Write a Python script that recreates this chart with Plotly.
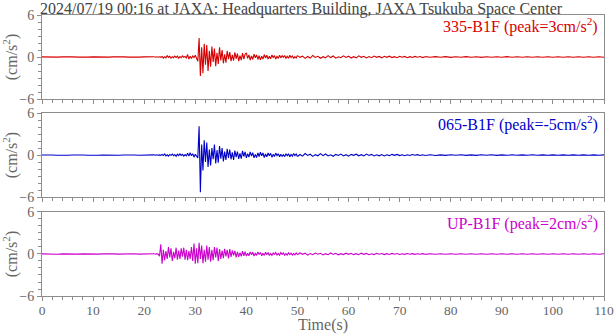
import plotly.graph_objects as go
from plotly.subplots import make_subplots

TITLE = "2024/07/19 00:16 at JAXA: Headquarters Building, JAXA Tsukuba Space Center"
CHANNELS = ["335-B1F", "065-B1F", "UP-B1F"]
PEAKS = [3, -5, 2]
COLORS = ["rgb(215,0,0)", "rgb(0,0,200)", "rgb(204,0,204)"]

# acceleration samples (cm/s^2), in four pieces per channel:
# quiet 0-22 s every 1 s, event 22-50 s every 0.25 s, coda 50-75 s every 0.5 s, tail 75-110 s every 1 s
PRE_335 = [0.02, -0.02, 0.03, -0.02, 0.02, -0.03, 0.02, -0.02, 0.03, -0.02, 0.02, -0.02,
           0.03, -0.02, 0.02, -0.03, 0.02, -0.02, 0.03, -0.02, 0.02, -0.02, 0.03]
EVENT_335 = [0.03, -0.03, 0.04, -0.03, 0.03, -0.04,
             0.08, -0.15, 0.05, -0.12, 0.18, -0.06, 0.1, -0.16, 0.04, -0.09,
             0.14, -0.05, 0.12, -0.18, 0.07, -0.1, 0.16, -0.04, 0.09, -0.13,
             0.35, -0.3, 0.1, -0.22, 0.15, -0.08, 0.25, -0.12,
             -0.6, 2.7, -2.7, 1.4, -2.3, 1.9,
             -1.1, 1.7, -2.0, 0.9,
             -1.4, 1.5, -0.7, 1.2, -1.3, 0.6, -1.0, 1.4,
             -0.5, 1.0, -0.9, 0.4, -0.8, 0.9, -0.3, 0.7,
             -0.6, 0.3, -0.5, 0.65, -0.25, 0.5, -0.6, 0.2, -0.45, 0.55, -0.3, 0.4,
             0.6, -0.2, 0.3, -0.45, 0.15, -0.35, 0.4, -0.1, 0.3, -0.35,
             0.2, -0.4, 0.1, -0.3, 0.35, -0.15, 0.25, -0.3, 0.1, -0.25,
             0.3, -0.1, 0.2, -0.28, 0.08, -0.2, 0.25, -0.12, 0.18, -0.05,
             0.22, -0.2, 0.1, -0.18, 0.25, -0.08, 0.15, -0.22, 0.06, -0.15, 0.2]
CODA_335 = [0.2, -0.05, 0.12, -0.2, 0.08, -0.15, 0.22, -0.06, 0.1, -0.18,
            0.05, -0.12, 0.2, -0.08, 0.14, -0.16, 0.04, -0.1, 0.17, -0.06,
            0.12, -0.15, 0.05, -0.12, 0.16, -0.04, 0.1, -0.13, 0.06, -0.1,
            0.14, -0.05, 0.08, -0.12, 0.1, -0.04, 0.12, -0.08, 0.05, -0.1,
            0.09, -0.04, 0.08, -0.1, 0.05, -0.07, 0.09, -0.03, 0.06, -0.08, 0.05]
TAIL_335 = [0.05, -0.04, 0.06, -0.03, 0.05, -0.05, 0.03, -0.04, 0.05, -0.03,
            0.04, -0.05, 0.03, -0.04, 0.04, -0.03, 0.05, -0.03, 0.03, -0.04,
            0.04, -0.03, 0.03, -0.04, 0.03, -0.03, 0.04, -0.03, 0.03, -0.03,
            0.04, -0.03, 0.03, -0.03, 0.03, -0.03]

PRE_065 = [0.02, -0.03, 0.02, -0.02, 0.03, -0.02, 0.02, -0.03, 0.02, -0.02, 0.03, -0.02,
           0.02, -0.02, 0.03, -0.02, 0.02, -0.03, 0.02, -0.02, 0.03, -0.02, 0.03]
EVENT_065 = [0.03, -0.03, 0.04, -0.03, 0.03, -0.04,
             0.1, -0.06, 0.16, -0.12, 0.05, -0.14, 0.09, -0.04, 0.15, -0.1,
             0.06, -0.17, 0.12, -0.08, 0.18, -0.05, 0.1, -0.14, 0.07, -0.12,
             0.25, -0.15, 0.35, -0.1, 0.2, -0.3, 0.12, -0.25,
             -0.4, 4.1, -5.3, 1.5, -2.2, 2.1,
             -1.0, 1.8, -1.7, 0.8,
             -1.5, 1.0, -0.6, 1.5, -1.2, 0.7, -1.1, 1.3,
             -0.5, 1.0, -0.9, 0.5, -0.7, 0.9, -0.4, 0.8,
             -0.6, 0.4, -0.7, 0.65, -0.3, 0.5, -0.55, 0.25, -0.5, 0.6, -0.2, 0.45,
             -0.4, 0.2, -0.3, 0.45, -0.15, 0.35, -0.4, 0.1, -0.35, 0.3,
             -0.2, 0.4, -0.1, 0.3, -0.35, 0.15, -0.25, 0.3, -0.1, 0.25,
             -0.3, 0.1, -0.2, 0.28, -0.08, 0.2, -0.25, 0.12, -0.18, 0.05,
             -0.22, 0.2, -0.1, 0.18, -0.25, 0.08, -0.15, 0.22, -0.06, 0.15, -0.2]
CODA_065 = [-0.2, 0.08, -0.15, 0.22, -0.05, 0.12, -0.18, 0.06, -0.1, 0.2,
            -0.08, 0.15, -0.12, 0.04, -0.17, 0.1, -0.06, 0.14, -0.12, 0.05,
            -0.15, 0.1, -0.04, 0.13, -0.1, 0.06, -0.12, 0.15, -0.05, 0.1,
            -0.12, 0.04, -0.1, 0.08, -0.13, 0.05, -0.08, 0.1, -0.04, 0.09,
            -0.07, 0.05, -0.09, 0.04, -0.06, 0.08, -0.03, 0.06, -0.05, 0.04, -0.05]
TAIL_065 = [-0.05, 0.04, -0.05, 0.03, -0.04, 0.05, -0.03, 0.04, -0.04, 0.03,
            -0.04, 0.04, -0.03, 0.04, -0.04, 0.03, -0.03, 0.04, -0.03, 0.03,
            -0.03, 0.04, -0.03, 0.03, -0.03, 0.03, -0.03, 0.03, -0.03, 0.03,
            -0.03, 0.03, -0.03, 0.03, -0.03, 0.03]

PRE_UP = [0.02, -0.02, 0.02, -0.03, 0.02, -0.02, 0.03, -0.02, 0.02, -0.02, 0.03, -0.02,
          0.02, -0.03, 0.02, -0.02, 0.02, -0.02, 0.03, -0.02, 0.02, -0.03, 0.03]
EVENT_UP = [0.03, -0.03, 0.04, -0.03,
            -0.3, 1.4,
            -1.4,
            0.6, -0.9, 0.4, -0.7, 1.0, -0.5, 0.8, -1.0, 0.3, -0.6,
            0.9, -0.8, 0.5, -0.7, 0.8, -0.4, 0.9, -0.8, 0.6, -0.9,
            0.4, -0.7, 1.0,
            -1.0, 1.5, -1.4, 0.8, -1.3, 1.6,
            -0.7, 1.2, -1.3, 0.6, -1.1, 1.2, -0.8, 1.0,
            -1.1, 0.6, -0.9, 1.0, -0.5, 0.9, -1.0, 0.7,
            -0.7, 0.5, -0.6, 0.75, -0.35, 0.6, -0.65, 0.7,
            -0.4, 0.5, -0.2, 0.45, -0.5, 0.3, -0.4, 0.2, -0.35, 0.4, -0.25, 0.35,
            -0.3, 0.12, -0.25, 0.3, -0.1, 0.25, -0.3, 0.15, -0.2, 0.28,
            -0.08, 0.22, -0.25, 0.1, -0.2, 0.25, -0.12, 0.2, -0.22, 0.08,
            -0.2, 0.15, -0.05, 0.2, -0.15, 0.08, -0.18, 0.2, -0.06, 0.15,
            -0.18, 0.05, -0.14, 0.18, -0.08, 0.12, -0.16, 0.06, -0.12, 0.15, -0.1]
CODA_UP = [-0.1, 0.15, -0.05, 0.12, -0.16, 0.06, -0.1, 0.14, -0.04, 0.1,
           -0.13, 0.05, -0.1, 0.15, -0.06, 0.1, -0.12, 0.04, -0.08, 0.12,
           -0.05, 0.1, -0.09, 0.04, -0.1, 0.12, -0.05, 0.08, -0.1, 0.04,
           -0.08, 0.09, -0.03, 0.07, -0.08, 0.05, -0.06, 0.08, -0.03, 0.06,
           -0.06, 0.04, -0.05, 0.06, -0.03, 0.05, -0.05, 0.03, -0.04, 0.05, -0.05]
TAIL_UP = [-0.05, 0.04, -0.04, 0.04, -0.04, 0.04, -0.03, 0.04, -0.03, 0.03,
           -0.03, 0.03, -0.03, 0.03, -0.03, 0.03, -0.03, 0.03, -0.03, 0.03,
           -0.03, 0.03, -0.03, 0.03, -0.03, 0.03, -0.03, 0.03, -0.03, 0.03,
           -0.03, 0.03, -0.03, 0.03, -0.03, 0.03]

# (x0, dx) of each piece
PIECES = [(0, 1.0), (22, 0.25), (50, 0.5), (75, 1.0)]
SERIES = [
    [PRE_335, EVENT_335, CODA_335, TAIL_335],
    [PRE_065, EVENT_065, CODA_065, TAIL_065],
    [PRE_UP, EVENT_UP, CODA_UP, TAIL_UP],
]

FONT = "Liberation Serif"
GRID = "#8c8c8c"
TXT = "#666666"

fig = make_subplots(rows=3, cols=1, shared_xaxes=True)

for i, (pieces, color) in enumerate(zip(SERIES, COLORS)):
    for (x0, dx), vals in zip(PIECES, pieces):
        fig.add_trace(go.Scatter(
            y=vals, x0=x0, dx=dx, mode="lines",
            line=dict(color=color, width=1.1),
            showlegend=False, hoverinfo="skip"
        ), row=i + 1, col=1)
    fig.add_annotation(
        text=f"{CHANNELS[i]} (peak={PEAKS[i]}cm/s<sup>2</sup>)",
        xref=f"x{i + 1 if i else ''} domain", yref=f"y{i + 1 if i else ''} domain",
        x=0.992, y=1, xanchor="right", yanchor="top", yshift=2,
        showarrow=False, font=dict(family=FONT, size=16, color=color)
    )

domains = [[0.701, 1.0], [0.352, 0.651], [0.0, 0.299]]
for i in range(3):
    fig.update_yaxes(
        row=i + 1, col=1, domain=domains[i], range=[-6, 6], automargin=False,
        tickvals=[-6, 0, 6], ticks="outside", ticklen=4, tickcolor=GRID,
        minor=dict(dtick=1, ticks="outside", ticklen=3, tickcolor=GRID),
        showline=True, linecolor=GRID, linewidth=1, mirror=True,
        showgrid=False, zeroline=False,
        tickfont=dict(family=FONT, size=14, color=TXT),
        title=dict(text="(cm/s<sup>2</sup>)", standoff=0,
                   font=dict(family=FONT, size=16, color=TXT))
    )
    fig.update_xaxes(
        row=i + 1, col=1, range=[0, 110], tick0=0, dtick=10, automargin=False,
        ticks="outside", ticklen=4, tickcolor=GRID,
        minor=dict(dtick=2, ticks="outside", ticklen=3, tickcolor=GRID),
        showline=True, linecolor=GRID, linewidth=1, mirror=True,
        showgrid=False, zeroline=False,
        tickfont=dict(family=FONT, size=13.5, color=TXT)
    )

fig.update_xaxes(row=3, col=1, ticklabelstandoff=-2,
                 title=dict(text="Time(s)", standoff=0,
                            font=dict(family=FONT, size=16, color=TXT)))

fig.update_layout(
    title=dict(text=TITLE, x=40 / 616, xanchor="left", y=0.992, yanchor="top",
               font=dict(family=FONT, size=16, color="#444444")),
    width=616, height=334,
    margin=dict(l=42, r=12, t=15, b=38),
    plot_bgcolor="white", paper_bgcolor="white"
)

# the page's default body margin would push the figure 8px off the window
fig.write_html("out.html", config={"displayModeBar": False},
               post_script="document.body.style.margin = '0px';")
